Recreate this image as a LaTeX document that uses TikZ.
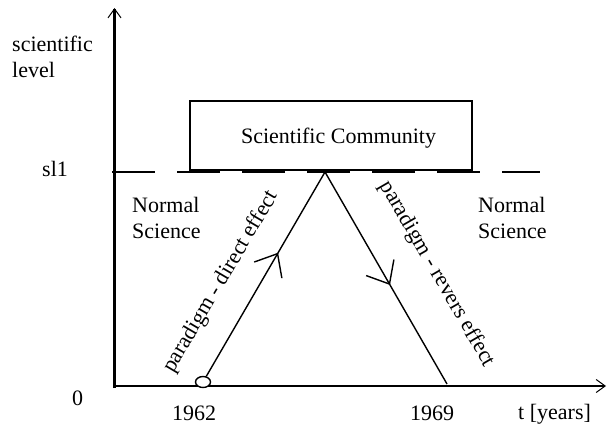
\documentclass[tikz,border=0pt]{standalone}
\usepackage{fontspec}
\setmainfont{Liberation Serif}
\usetikzlibrary{arrows.meta,decorations.markings,shapes.geometric}
\begin{document}
\begin{tikzpicture}[x=1pt,y=-1pt,
  font=\fontsize{22}{26}\selectfont,
  axis/.style={line width=2.6pt,-{Straight Barb[length=9pt,width=13pt,line width=1pt]}},
  txt/.style={inner sep=0pt},
  multi/.style={inner sep=0pt,align=left,anchor=north west},
  commbox/.style={draw,line width=2pt,minimum width=282pt,minimum height=69pt,inner sep=0pt},
  dashline/.style={line width=2pt,dash pattern=on 43pt off 22pt},
  ray/.style={line width=1.4pt},
  midtip/.style={postaction={decorate},decoration={markings,
     mark=at position #1 with {\arrow{Straight Barb[length=19pt,width=32pt,line width=1.4pt]}}}},
  ring/.style={draw,ellipse,line width=1.4pt,minimum width=15pt,minimum height=11pt,inner sep=0pt,fill=white}
]
\useasboundingbox (0,0) rectangle (607,425);

% axes
\coordinate (ytop) at (114.5,8);
\coordinate (xend) at (606,386);
\draw[axis] (114.5,388) -- (ytop);
\draw[axis] (113.5,386) -- (xend);

% dashed level line
\coordinate (dL) at (112,172);
\coordinate (dR) at (540,172);
\draw[dashline] (dL) -- (dR);

% community box
\node[commbox] (comm) at (331,135.5) {};
\node[txt,anchor=base] (commtext) at (338.5,143) {Scientific Community};

% rays
\coordinate (apex) at (325,172);
\coordinate (rend) at (447,384);
\node[ring] (c0) at (203,382) {};
\draw[ray,midtip=0.605] (c0) -- (apex);
\draw[ray,midtip=0.533] (apex) -- (rend);

% rotated labels
\node[txt,rotate=59.5] (lbl1) at (221,282) {paradigm - direct effect};
\node[txt,rotate=-60] (lbl2) at (437,274) {paradigm - revers effect};

% other labels
\node[multi] (ylab) at (12,36) {scientific\\level};
\node[txt,anchor=base west] (sl) at (42,176) {sl1};
\node[txt,anchor=base west] (zero) at (72,405) {0};
\node[txt,anchor=base west] (y62) at (172,420) {1962};
\node[txt,anchor=base west] (y69) at (410,420) {1969};
\node[txt,anchor=base west] (tlab) at (518,419) {t [years]};
\node[multi] (ns1) at (132,197) {Normal\\Science};
\node[multi] (ns2) at (478,197) {Normal\\Science};
\end{tikzpicture}
\end{document}
